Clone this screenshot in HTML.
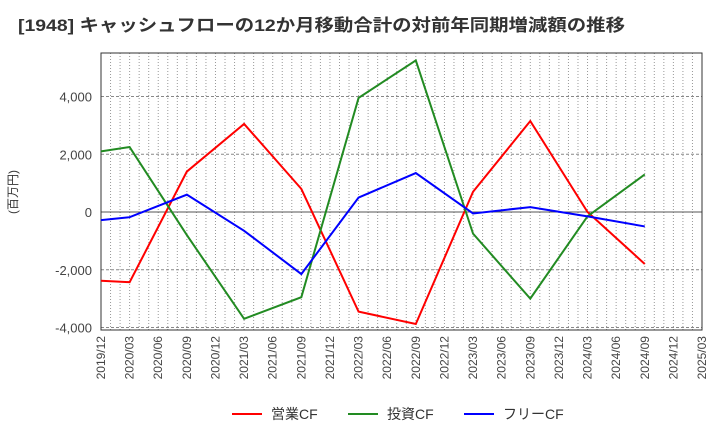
<!DOCTYPE html>
<html><head><meta charset="utf-8"><style>
body{margin:0;background:#fff;font-family:"Liberation Sans","Noto Sans CJK JP",sans-serif;}
</style></head><body>
<svg id="chart" width="720" height="440" xmlns="http://www.w3.org/2000/svg" font-family="Liberation Sans, Noto Sans CJK JP, sans-serif">
<text x="18" y="31" font-size="17" font-weight="bold" fill="#333" textLength="607" lengthAdjust="spacingAndGlyphs">[1948]  キャッシュフローの12か月移動合計の対前年同期増減額の推移</text>
<text transform="translate(17,192) rotate(-90)" text-anchor="middle" font-size="12" fill="#333">(百万円)</text>
<g id="grid"></g><g id="axes"></g><g id="series"></g>
<g>
<line x1="232" y1="414" x2="262" y2="414" stroke="#ff0000" stroke-width="2"/><text x="271" y="419" font-size="14" fill="#333">営業CF</text>
<line x1="348" y1="414" x2="378" y2="414" stroke="#228b22" stroke-width="2"/><text x="387" y="419" font-size="14" fill="#333">投資CF</text>
<line x1="464" y1="414" x2="494" y2="414" stroke="#0000ff" stroke-width="2"/><text x="503" y="419" font-size="14" fill="#333">フリーCF</text>
</g>
</svg>
<script>
const tickLabels=["2019/12","2020/03","2020/06","2020/09","2020/12","2021/03","2021/06","2021/09","2021/12","2022/03","2022/06","2022/09","2022/12","2023/03","2023/06","2023/09","2023/12","2024/03","2024/06","2024/09","2024/12","2025/03"];
const yTicks=[-4000,-2000,0,2000,4000];
const pointIdx=[0,1,3,5,7,9,11,13,15,17,19];
const operatingCF=[-2380,-2430,1400,3050,800,-3450,-3880,700,3150,0,-1800];
const investingCF=[2100,2250,-800,-3700,-2950,3950,5250,-750,-3000,-150,1300];
const freeCF=[-280,-180,600,-650,-2150,500,1350,-50,170,-150,-500];
const L=101,R=702,T=53,B=330;
const x=i=>L+i*(R-L)/21;
const y=v=>212-v*115.5/4000;
const NS="http://www.w3.org/2000/svg";
function mk(p,t,a){const e=document.createElementNS(NS,t);for(const k in a)e.setAttribute(k,a[k]);p.appendChild(e);return e;}
const grid=document.getElementById('grid'),axes=document.getElementById('axes'),ser=document.getElementById('series');
for(let m=1;m<63;m++){const xx=L+m*(R-L)/63;
const g=mk(grid,'line',{x1:xx,x2:xx,y1:T,y2:B,stroke:'#999','stroke-dasharray':'1,2','stroke-width':1});

}
yTicks.forEach(v=>{
const l=mk(grid,'line',{x1:L,x2:R,y1:y(v),y2:y(v),stroke:v===0?'#555':'#888','stroke-dasharray':v===0?'':'3,2','stroke-width':1});


const t=mk(axes,'text',{x:L-9,y:y(v)+5,'text-anchor':'end','font-size':13,fill:'#444'});
t.textContent=v.toLocaleString('en-US');

});
const fr=mk(axes,'rect',{x:L,y:T,width:R-L,height:B-T,fill:'none',stroke:'#333','stroke-width':1});


tickLabels.forEach((s,i)=>{
const t=mk(axes,'text',{transform:`translate(${x(i)+4},${B+6}) rotate(-90)`,'text-anchor':'end','font-size':12,fill:'#444'});
t.textContent=s;

});
[[operatingCF,'#ff0000','operating-cf-line'],[investingCF,'#228b22','investing-cf-line'],[freeCF,'#0000ff','free-cf-line']].forEach(([d,c,n])=>{
const p=mk(ser,'polyline',{points:d.map((v,k)=>x(pointIdx[k])+','+y(v)).join(' '),fill:'none',stroke:c,'stroke-width':2});

});
</script>
</body></html>
